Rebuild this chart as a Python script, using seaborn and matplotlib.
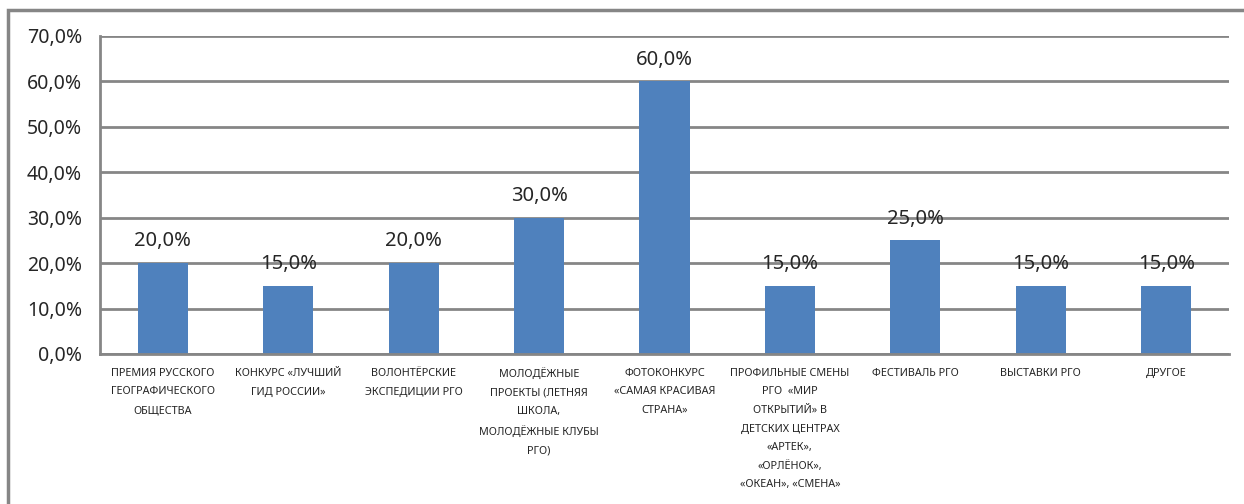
import pandas as pd
import numpy as np
import matplotlib.pyplot as plt
import seaborn as sns
from matplotlib.patches import Rectangle
from matplotlib.ticker import FuncFormatter

categories = [
    'ПРЕМИЯ РУССКОГО\nГЕОГРАФИЧЕСКОГО\nОБЩЕСТВА',
    'КОНКУРС «ЛУЧШИЙ\nГИД РОССИИ»',
    'ВОЛОНТЁРСКИЕ\nЭКСПЕДИЦИИ РГО',
    'МОЛОДЁЖНЫЕ\nПРОЕКТЫ (ЛЕТНЯЯ\nШКОЛА,\nМОЛОДЁЖНЫЕ КЛУБЫ\nРГО)',
    'ФОТОКОНКУРС\n«САМАЯ КРАСИВАЯ\nСТРАНА»',
    'ПРОФИЛЬНЫЕ СМЕНЫ\nРГО  «МИР\nОТКРЫТИЙ» В\nДЕТСКИХ ЦЕНТРАХ\n«АРТЕК»,\n«ОРЛЁНОК»,\n«ОКЕАН», «СМЕНА»',
    'ФЕСТИВАЛЬ РГО',
    'ВЫСТАВКИ РГО',
    'ДРУГОЕ',
]
values = [20.0, 15.0, 20.0, 30.0, 60.0, 15.0, 25.0, 15.0, 15.0]
yticks = [0, 10, 20, 30, 40, 50, 60, 70]

sns.set_style('white')
plt.rcParams['font.family'] = ['Noto Sans', 'DejaVu Sans']

df = pd.DataFrame({'cat': categories, 'val': values})

fig = plt.figure(figsize=(12.44, 5.04), dpi=100)
fig.patches.append(Rectangle((8 / 1244, -0.1), 1.2, (504 - 10) / 504 + 0.1,
                             transform=fig.transFigure, fill=False,
                             edgecolor='#868686', linewidth=2.5))
ax = fig.add_axes([100 / 1244, 1 - 354 / 504, (1229 - 100) / 1244, (354 - 36) / 504])

sns.barplot(data=df, x='cat', y='val', color='#4F81BD', width=0.4,
            saturation=1, linewidth=0, ax=ax)

ax.set_ylim(0, 70)
ax.set_xlim(-0.5, len(categories) - 0.5)
ax.set_yticks(yticks)
ax.yaxis.set_major_formatter(FuncFormatter(lambda v, p: f'{v:.1f}%'.replace('.', ',')))
ax.grid(axis='y', color='#868686', linewidth=2)
ax.set_axisbelow(True)
for s in ['top', 'right']:
    ax.spines[s].set_visible(False)
for s in ['left', 'bottom']:
    ax.spines[s].set_color('#868686')
    ax.spines[s].set_linewidth(2)

ax.tick_params(axis='y', length=7, width=2, color='#868686', labelsize=14, pad=6)
ax.set_xticks(range(len(categories)))
ax.set_xticklabels(categories, fontsize=7.8, linespacing=1.95, va='top')
ax.tick_params(axis='x', length=0, pad=10)
ax.set_xticks(np.arange(-0.5, len(categories)), minor=True)
ax.tick_params(axis='x', which='minor', length=5, width=2, color='#868686')
ax.set_xlabel('')
ax.set_ylabel('')

for i, v in enumerate(values):
    ax.text(i, v + 2.6, f'{v:.1f}%'.replace('.', ','), ha='center', va='bottom',
            fontsize=14.5)

fig.savefig('out.png', dpi=100)
